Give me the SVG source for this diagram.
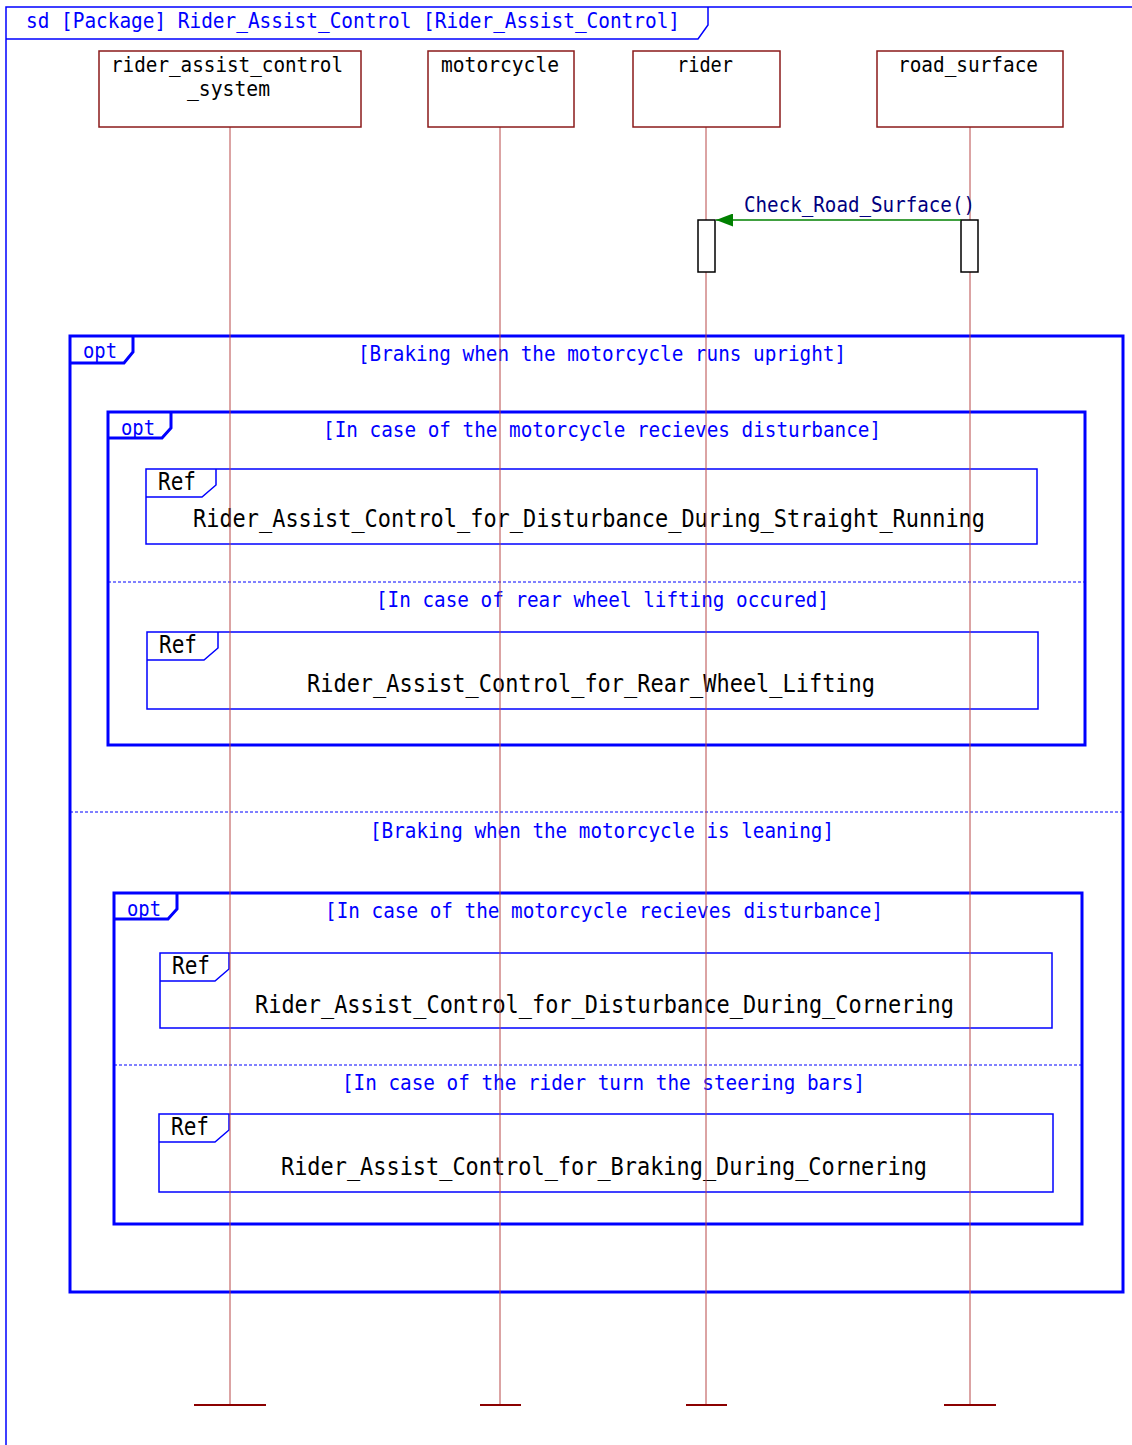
<svg xmlns="http://www.w3.org/2000/svg" width="1132" height="1445" viewBox="0 0 1132 1445">
  <style>
    text { font-family: "DejaVu Sans Mono", "Liberation Mono", monospace; }
    .t { font-size: 22px; fill: #0000ff; }
    .hd { font-size: 22px; fill: #000000; }
    .msg { font-size: 22px; fill: #000080; }
    .ref { font-size: 25px; fill: #000000; }
    .frame { fill: none; stroke: #0000ff; stroke-width: 1.5; }
    .opt { fill: none; stroke: #0000ff; stroke-width: 3; }
    .reff { fill: none; stroke: #0000ff; stroke-width: 1.5; }
    .sep { stroke: #0000ff; stroke-width: 1; stroke-dasharray: 3 2; }
    .head { fill: #ffffff; stroke: #8b1a1a; stroke-width: 1.5; }
    .life { stroke: #b84848; stroke-width: 1; }
    .end { stroke: #8b0000; stroke-width: 2; }
    .act { fill: #ffffff; stroke: #000000; stroke-width: 1.5; }
  </style>
  <defs>
    <marker id="arrow" markerWidth="17" markerHeight="13" refX="17" refY="6.5" orient="auto" markerUnits="userSpaceOnUse">
      <path d="M0,0 L17,6.5 L0,13 Z" fill="#008000"/>
    </marker>
  </defs>
  <rect width="1132" height="1445" fill="#ffffff"/>

  <!-- diagram frame -->
  <g id="frame">
    <path class="frame" d="M1140,7 L6,7 L6,1450"/>
    <path class="frame" d="M6,39 L698,39 L708,25 L708,7"/>
    <text class="t" x="26" y="28" textLength="654" lengthAdjust="spacingAndGlyphs">sd [Package] Rider_Assist_Control [Rider_Assist_Control]</text>
  </g>

  <!-- combined fragments -->
  <g id="opt_outer">
    <rect class="opt" x="70" y="336" width="1053" height="956"/>
    <path class="opt" d="M70,363 L124,363 L133,352 L133,336"/>
    <text class="t" x="83" y="358" textLength="34" lengthAdjust="spacingAndGlyphs">opt</text>
    <text class="t" x="358" y="361" textLength="488" lengthAdjust="spacingAndGlyphs">[Braking when the motorcycle runs upright]</text>
    <line class="sep" x1="70" y1="812" x2="1123" y2="812"/>
    <text class="t" x="370" y="838" textLength="464" lengthAdjust="spacingAndGlyphs">[Braking when the motorcycle is leaning]</text>
  </g>

  <g id="opt_upright">
    <rect class="opt" x="108" y="412" width="977" height="333"/>
    <path class="opt" d="M108,438 L162,438 L171,428 L171,412"/>
    <text class="t" x="121" y="435" textLength="34" lengthAdjust="spacingAndGlyphs">opt</text>
    <text class="t" x="323" y="437" textLength="558" lengthAdjust="spacingAndGlyphs">[In case of the motorcycle recieves disturbance]</text>
    <line class="sep" x1="108" y1="582" x2="1085" y2="582"/>
    <text class="t" x="376" y="607" textLength="453" lengthAdjust="spacingAndGlyphs">[In case of rear wheel lifting occured]</text>
  </g>

  <g id="ref_straight">
    <rect class="reff" x="146" y="469" width="891" height="75"/>
    <path class="reff" d="M146,497 L202,497 L216,485 L216,469"/>
    <text class="ref" x="158" y="490" textLength="38" lengthAdjust="spacingAndGlyphs">Ref</text>
    <text class="ref" x="193" y="527" textLength="792" lengthAdjust="spacingAndGlyphs">Rider_Assist_Control_for_Disturbance_During_Straight_Running</text>
  </g>

  <g id="ref_rear_wheel">
    <rect class="reff" x="147" y="632" width="891" height="77"/>
    <path class="reff" d="M147,660 L204,660 L218,648 L218,632"/>
    <text class="ref" x="159" y="653" textLength="38" lengthAdjust="spacingAndGlyphs">Ref</text>
    <text class="ref" x="307" y="692" textLength="568" lengthAdjust="spacingAndGlyphs">Rider_Assist_Control_for_Rear_Wheel_Lifting</text>
  </g>

  <g id="opt_leaning">
    <rect class="opt" x="114" y="893" width="968" height="331"/>
    <path class="opt" d="M114,919 L168,919 L177,909 L177,893"/>
    <text class="t" x="127" y="916" textLength="34" lengthAdjust="spacingAndGlyphs">opt</text>
    <text class="t" x="325" y="918" textLength="558" lengthAdjust="spacingAndGlyphs">[In case of the motorcycle recieves disturbance]</text>
    <line class="sep" x1="114" y1="1065" x2="1082" y2="1065"/>
    <text class="t" x="342" y="1090" textLength="523" lengthAdjust="spacingAndGlyphs">[In case of the rider turn the steering bars]</text>
  </g>

  <g id="ref_cornering_disturbance">
    <rect class="reff" x="160" y="953" width="892" height="75"/>
    <path class="reff" d="M160,981 L215,981 L229,969 L229,953"/>
    <text class="ref" x="172" y="974" textLength="38" lengthAdjust="spacingAndGlyphs">Ref</text>
    <text class="ref" x="255" y="1013" textLength="699" lengthAdjust="spacingAndGlyphs">Rider_Assist_Control_for_Disturbance_During_Cornering</text>
  </g>

  <g id="ref_cornering_braking">
    <rect class="reff" x="159" y="1114" width="894" height="78"/>
    <path class="reff" d="M159,1142 L215,1142 L229,1130 L229,1114"/>
    <text class="ref" x="171" y="1135" textLength="38" lengthAdjust="spacingAndGlyphs">Ref</text>
    <text class="ref" x="281" y="1175" textLength="646" lengthAdjust="spacingAndGlyphs">Rider_Assist_Control_for_Braking_During_Cornering</text>
  </g>

  <!-- lifelines -->
  <g id="rider_assist_control_system">
    <line class="life" x1="230" y1="127" x2="230" y2="1405"/>
    <line class="end" x1="194" y1="1405" x2="266" y2="1405"/>
    <rect class="head" x="99" y="51" width="262" height="76"/>
    <text class="hd" x="111" y="72" textLength="232" lengthAdjust="spacingAndGlyphs">rider_assist_control</text>
    <text class="hd" x="187" y="96" textLength="83" lengthAdjust="spacingAndGlyphs">_system</text>
  </g>
  <g id="motorcycle">
    <line class="life" x1="500" y1="127" x2="500" y2="1405"/>
    <line class="end" x1="480" y1="1405" x2="521" y2="1405"/>
    <rect class="head" x="428" y="51" width="146" height="76"/>
    <text class="hd" x="441" y="72" textLength="118" lengthAdjust="spacingAndGlyphs">motorcycle</text>
  </g>
  <g id="rider">
    <line class="life" x1="706" y1="127" x2="706" y2="1405"/>
    <line class="end" x1="686" y1="1405" x2="727" y2="1405"/>
    <rect class="head" x="633" y="51" width="147" height="76"/>
    <text class="hd" x="677" y="72" textLength="56" lengthAdjust="spacingAndGlyphs">rider</text>
    <rect class="act" x="698" y="220" width="17" height="52"/>
  </g>
  <g id="road_surface">
    <line class="life" x1="970" y1="127" x2="970" y2="1405"/>
    <line class="end" x1="944" y1="1405" x2="996" y2="1405"/>
    <rect class="head" x="877" y="51" width="186" height="76"/>
    <text class="hd" x="898" y="72" textLength="140" lengthAdjust="spacingAndGlyphs">road_surface</text>
    <rect class="act" x="961" y="220" width="17" height="52"/>
  </g>

  <!-- messages -->
  <g id="connectors">
    <line x1="961" y1="220" x2="716" y2="220" stroke="#008000" stroke-width="1.5" marker-end="url(#arrow)"/>
    <text class="msg" x="744" y="212" textLength="231" lengthAdjust="spacingAndGlyphs">Check_Road_Surface()</text>
  </g>
</svg>
